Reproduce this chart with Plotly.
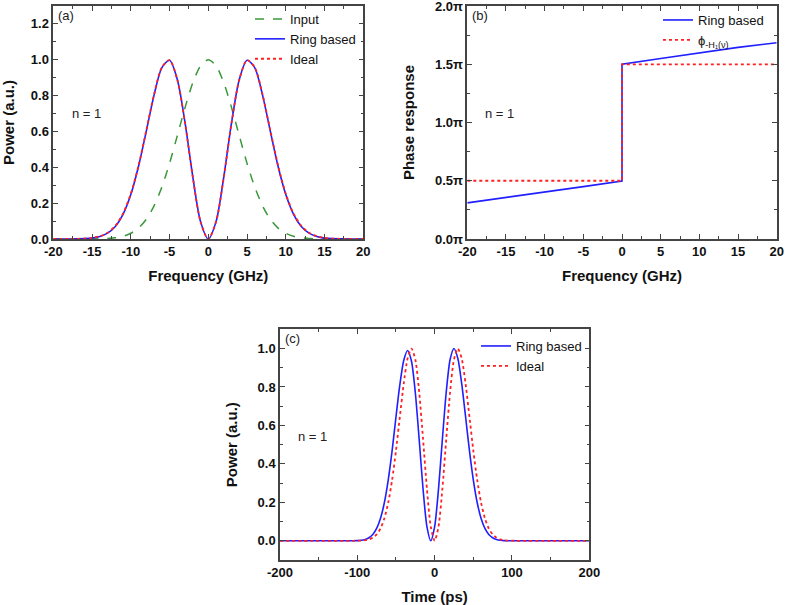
import plotly.graph_objects as go

# ---------------- Data ----------------
# Panel (a): power spectra vs frequency (GHz)
freq_a = [-20, -19, -18, -17, -16, -15, -14, -13, -12, -11, -10, -9, -8, -7, -6, -5, -4, -3, -2, -1, 0,
          1, 2, 3, 4, 5, 6, 7, 8, 9, 10, 11, 12, 13, 14, 15, 16, 17, 18, 19, 20]
input_a = [0, 0, 0, 0, 0, 0, 0.001, 0.003, 0.007, 0.015, 0.032, 0.061, 0.110, 0.185, 0.289, 0.422, 0.576, 0.733, 0.871, 0.966, 1.0,
           0.966, 0.871, 0.733, 0.576, 0.422, 0.289, 0.185, 0.110, 0.061, 0.032, 0.015, 0.007, 0.003, 0.001, 0, 0, 0, 0, 0, 0]
ring_a = [0, 0, 0, 0.001, 0.002, 0.005, 0.014, 0.033, 0.070, 0.138, 0.248, 0.406, 0.602, 0.803, 0.955, 0.997, 0.890, 0.649, 0.347, 0.097, 0.0,
          0.097, 0.347, 0.649, 0.890, 0.997, 0.955, 0.803, 0.602, 0.406, 0.248, 0.138, 0.070, 0.033, 0.014, 0.005, 0.002, 0.001, 0, 0, 0]
ideal_a = [0, 0, 0, 0.001, 0.002, 0.006, 0.015, 0.035, 0.073, 0.142, 0.252, 0.410, 0.606, 0.806, 0.957, 0.998, 0.889, 0.647, 0.345, 0.096, 0.0,
           0.096, 0.345, 0.647, 0.889, 0.998, 0.957, 0.806, 0.606, 0.410, 0.252, 0.142, 0.073, 0.035, 0.015, 0.006, 0.002, 0.001, 0, 0, 0]
freq_tickvals = [-20, -15, -10, -5, 0, 5, 10, 15, 20]
freq_ticktext = ["-20", "-15", "-10", "-5", "0", "5", "10", "15", "20"]

# Panel (b): phase response (units of pi) vs frequency (GHz)
freq_b_ring = [-20, -15, -10, -5, 0, 0, 5, 10, 15, 20]
phase_ring = [0.31, 0.355, 0.40, 0.45, 0.497, 1.5, 1.55, 1.60, 1.645, 1.685]
freq_b_ideal = [-20, 0, 0, 20]
phase_ideal = [0.5, 0.5, 1.5, 1.5]
phase_tickvals = [0, 0.5, 1.0, 1.5, 2.0]
phase_ticktext = ["0.0π", "0.5π", "1.0π", "1.5π", "2.0π"]

# Panel (c): power vs time (ps)
time_c = [-200, -150, -110, -105, -100, -95, -90, -85, -80, -75, -70, -65, -60, -55, -50, -45, -40, -35, -30, -25, -20, -15, -10, -5, 0,
          5, 10, 15, 20, 25, 30, 35, 40, 45, 50, 55, 60, 65, 70, 75, 80, 85, 90, 95, 100, 105, 110, 150, 200]
ideal_c = [0, 0, 0, 0, 0.0004, 0.001, 0.003, 0.007, 0.016, 0.033, 0.064, 0.117, 0.199, 0.317, 0.469, 0.645, 0.817, 0.948, 1.0, 0.943, 0.774, 0.529, 0.270, 0.0735, 0.0,
           0.0735, 0.270, 0.529, 0.774, 0.943, 1.0, 0.948, 0.817, 0.645, 0.469, 0.317, 0.199, 0.117, 0.064, 0.033, 0.016, 0.007, 0.003, 0.001, 0.0004, 0, 0, 0, 0]
ring_c = [0, 0, 0, 0.0004, 0.001, 0.003, 0.007, 0.016, 0.033, 0.064, 0.117, 0.199, 0.317, 0.469, 0.645, 0.812, 0.938, 0.99, 0.935, 0.770, 0.527, 0.269, 0.0735, 0.0, 0.0735,
          0.270, 0.529, 0.774, 0.943, 1.0, 0.948, 0.817, 0.645, 0.469, 0.317, 0.199, 0.117, 0.064, 0.033, 0.016, 0.007, 0.003, 0.001, 0.0004, 0, 0, 0, 0, 0]
time_tickvals = [-200, -100, 0, 100, 200]
time_ticktext = ["-200", "-100", "0", "100", "200"]

# ---------------- Styling ----------------
FONT = "Liberation Sans, Arial, sans-serif"
AXC = "#444444"
GREEN = "#3a983a"
BLUE = "#1f1fff"
RED = "#ff2020"

W, H = 787, 605


def px_x(p):
    return p / W


def px_y(p):
    return 1 - p / H


fig = go.Figure()

# (a)
fig.add_trace(go.Scatter(x=freq_a, y=input_a, mode="lines", name="Input", line=dict(color=GREEN, dash="dash", width=1.5, shape="spline", smoothing=0.8),
                         xaxis="x", yaxis="y", legend="legend"))
fig.add_trace(go.Scatter(x=freq_a, y=ring_a, mode="lines", name="Ring based", line=dict(color=BLUE, width=1.6, shape="spline", smoothing=0.8),
                         xaxis="x", yaxis="y", legend="legend"))
fig.add_trace(go.Scatter(x=freq_a, y=ideal_a, mode="lines", name="Ideal", line=dict(color=RED, dash="dot", width=1.8, shape="spline", smoothing=0.8),
                         xaxis="x", yaxis="y", legend="legend"))
# (b)
fig.add_trace(go.Scatter(x=freq_b_ring, y=phase_ring, mode="lines", name="Ring based", line=dict(color=BLUE, width=1.6),
                         xaxis="x2", yaxis="y2", legend="legend2"))
fig.add_trace(go.Scatter(x=freq_b_ideal, y=phase_ideal, mode="lines", name="ϕ<sub>-H₁(ν)</sub>", line=dict(color=RED, dash="dot", width=1.8),
                         xaxis="x2", yaxis="y2", legend="legend2"))
# (c)
fig.add_trace(go.Scatter(x=time_c, y=ring_c, mode="lines", name="Ring based", line=dict(color=BLUE, width=1.6, shape="spline", smoothing=0.7),
                         xaxis="x3", yaxis="y3", legend="legend3"))
fig.add_trace(go.Scatter(x=time_c, y=ideal_c, mode="lines", name="Ideal", line=dict(color=RED, dash="dot", width=1.8, shape="spline", smoothing=0.7),
                         xaxis="x3", yaxis="y3", legend="legend3"))


def axis(domain, rng, minor_dtick, anchor, title, standoff, **kw):
    d = dict(domain=domain, range=rng, anchor=anchor, showline=True, mirror="ticks", linecolor=AXC, linewidth=1.5,
             ticks="inside", ticklen=5, tickwidth=1.2, tickcolor=AXC, showgrid=False, zeroline=False, automargin=False,
             ticklabeloverflow="allow",
             tickfont=dict(family=FONT, size=13, color="#111", weight="bold"),
             minor=dict(ticks="inside", ticklen=3, tickwidth=1.0, tickcolor=AXC, dtick=minor_dtick, tick0=0, showgrid=False),
             title=dict(text=title, font=dict(family=FONT, size=15, color="#111", weight="bold"), standoff=standoff))
    d.update(kw)
    return d


xa_dom = [px_x(53.3), px_x(363.3)]
xb_dom = [px_x(467.3), px_x(776.7)]
xc_dom = [px_x(280), px_x(589.3)]
yab_dom = [px_y(239), px_y(6)]
yc_dom = [px_y(560), px_y(329.3)]

fig.update_layout(
    width=W, height=H, margin=dict(l=0, r=0, t=0, b=0, autoexpand=False),
    paper_bgcolor="white", plot_bgcolor="white",
    font=dict(family=FONT, size=13, color="#111"),
    xaxis=axis(xa_dom, [-20, 20], 2.5, "y", "Frequency (GHz)", 12,
               tickmode="array", tickvals=freq_tickvals, ticktext=freq_ticktext),
    yaxis=axis(yab_dom, [0, 1.3], 0.1, "x", "Power (a.u.)", 15, dtick=0.2, tick0=0, tickformat=".1f"),
    xaxis2=axis(xb_dom, [-20, 20], 2.5, "y2", "Frequency (GHz)", 12,
                tickmode="array", tickvals=freq_tickvals, ticktext=freq_ticktext),
    yaxis2=axis(yab_dom, [0, 2.0005], 0.25, "x2", "Phase response", 17, tickmode="array",
                tickvals=phase_tickvals, ticktext=phase_ticktext),
    xaxis3=axis(xc_dom, [-200, 200], 50, "y3", "Time (ps)", 12,
                tickmode="array", tickvals=time_tickvals, ticktext=time_ticktext),
    yaxis3=axis(yc_dom, [-0.1, 1.1], 0.1, "x3", "Power (a.u.)", 16, dtick=0.2, tick0=0, tickformat=".1f"),
    legend=dict(x=px_x(250), y=px_y(4), xanchor="left", yanchor="top", bgcolor="rgba(0,0,0,0)",
                font=dict(family=FONT, size=13, color="#111"), tracegroupgap=0, itemwidth=30),
    legend2=dict(x=px_x(658), y=px_y(5), xanchor="left", yanchor="top", bgcolor="rgba(0,0,0,0)",
                 font=dict(family=FONT, size=13, color="#111"), tracegroupgap=0, itemwidth=30),
    legend3=dict(x=px_x(476), y=px_y(331), xanchor="left", yanchor="top", bgcolor="rgba(0,0,0,0)",
                 font=dict(family=FONT, size=13, color="#111"), tracegroupgap=0, itemwidth=30),
    showlegend=True,
)

ann_font = dict(family=FONT, size=13, color="#222")
for txt, x, y in [("(a)", 56, 15), ("(b)", 470, 15), ("(c)", 283, 338),
                  ("n = 1", 70, 113), ("n = 1", 483, 113), ("n = 1", 296, 437)]:
    fig.add_annotation(text=txt, x=px_x(x), y=px_y(y), xref="paper", yref="paper",
                       xanchor="left", yanchor="middle", showarrow=False, font=ann_font)

fig.write_html("out.html", config={"displayModeBar": False},
               post_script="document.body.style.margin='0';document.body.style.overflow='hidden';")
